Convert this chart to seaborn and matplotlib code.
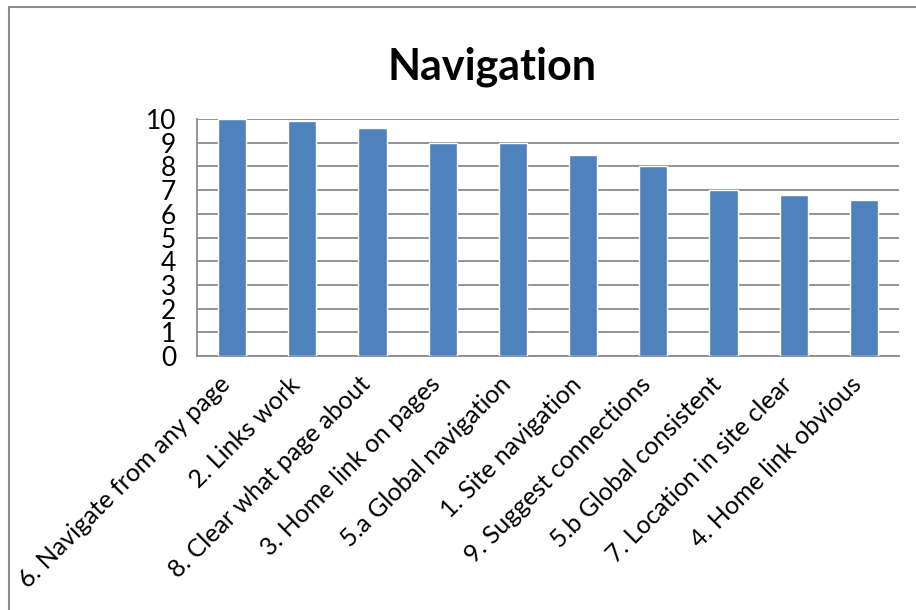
import matplotlib
matplotlib.use("Agg")
import matplotlib.pyplot as plt
from matplotlib.lines import Line2D
from matplotlib.transforms import ScaledTranslation
import seaborn as sns
import pandas as pd

categories = [
    "6. Navigate from any page",
    "2. Links work",
    "8. Clear what page about",
    "3. Home link on pages",
    "5.a Global navigation",
    "1. Site navigation",
    "9. Suggest connections",
    "5.b Global consistent",
    "7. Location in site clear",
    "4. Home link obvious",
]
scores = [10.0, 9.9, 9.6, 9.0, 9.0, 8.5, 8.0, 7.0, 6.8, 6.6]
yticks = list(range(0, 11))

sns.set_style("white")
plt.rcParams["font.family"] = ["Lato", "DejaVu Sans"]
plt.rcParams["text.color"] = "black"
plt.rcParams["xtick.color"] = "black"
plt.rcParams["ytick.color"] = "black"

df = pd.DataFrame({"item": categories, "score": scores})

W, H = 916, 610
fig = plt.figure(figsize=(W / 100, H / 100), dpi=100)
ax = fig.add_axes([197 / W, 1 - 356 / H, (899 - 197) / W, (356 - 119) / H])

grid_col = "#8a8a8a"
ax.set_axisbelow(True)
ax.yaxis.grid(True, color=grid_col, linewidth=1.3)

sns.barplot(data=df, x="item", y="score", color="#4F81BD", saturation=1,
            width=0.4, ax=ax, zorder=3)

ax.set_ylim(0, 10)
ax.set_xlim(-0.5, len(categories) - 0.5)
ax.set_yticks(yticks)
ax.set_xlabel("")
ax.set_ylabel("")

# tick marks at category boundaries, labels at centers
ax.set_xticks([i - 0.5 for i in range(len(categories) + 1)], minor=True)
ax.tick_params(axis="x", which="minor", length=8, width=1.3, color=grid_col)
ax.tick_params(axis="x", which="major", length=0, pad=4)
ax.tick_params(axis="y", length=8, width=1.3, color=grid_col, pad=7)
ax.set_xticklabels(categories, rotation=45, ha="right", rotation_mode="anchor",
                   fontsize=18)
shift = ScaledTranslation(-14 / 100, -11 / 100, fig.dpi_scale_trans)
for lbl in ax.get_xticklabels():
    lbl.set_transform(lbl.get_transform() + shift)
for lbl in ax.get_yticklabels():
    lbl.set_fontsize(19)

for side in ["top", "right"]:
    ax.spines[side].set_visible(False)
for side in ["left", "bottom"]:
    ax.spines[side].set_color(grid_col)
    ax.spines[side].set_linewidth(1.3)

fig.text(492 / W, 1 - 67 / H, "Navigation", ha="center", va="center",
         fontsize=31, fontweight="bold")

# outer chart frame (left and top edges visible)
fig.add_artist(Line2D([9 / W, 9 / W], [0, 1 - 7 / H], transform=fig.transFigure,
                      color="#8c8c8c", linewidth=1.5))
fig.add_artist(Line2D([9 / W, 1], [1 - 7 / H, 1 - 7 / H], transform=fig.transFigure,
                      color="#8c8c8c", linewidth=1.5))

fig.savefig("out.png", dpi=100)
